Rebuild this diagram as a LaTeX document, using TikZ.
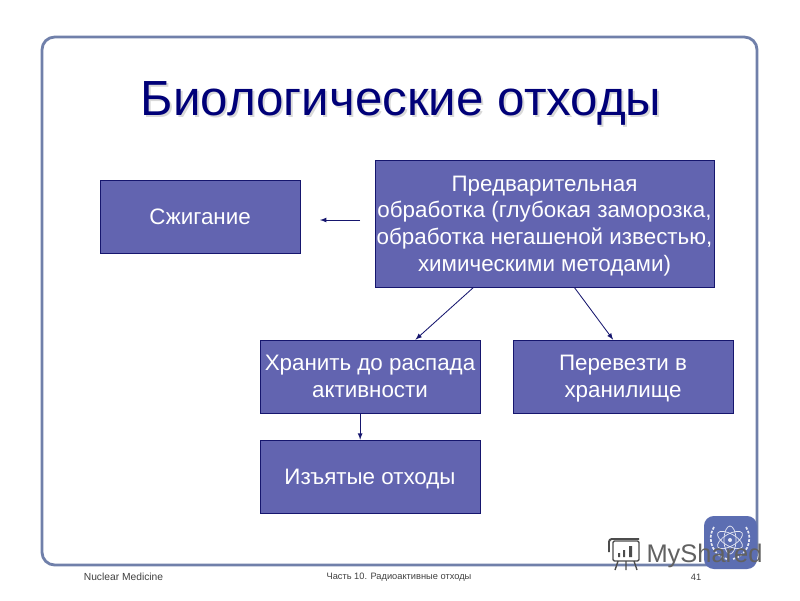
\documentclass[tikz,border=0pt]{standalone}
\usepackage{fontspec}
\setmainfont{Liberation Sans}
\definecolor{framegray}{RGB}{112,128,170}
\definecolor{boxviolet}{RGB}{98,100,176}
\definecolor{boxedge}{RGB}{22,22,110}
\definecolor{titlenavy}{RGB}{0,0,120}
\definecolor{logoblue}{RGB}{92,110,178}
\tikzset{
  stepbox/.style={draw=boxedge, fill=boxviolet, text=white, align=center, inner sep=0pt,
    text depth=0pt, font=\fontsize{15.9}{19}\selectfont},
  flow/.style={->, >={latex[scale=1.2]}, draw=boxedge, line width=0.6pt},
  footer/.style={text=black!75, font=\fontsize{6.6}{8}\selectfont, inner sep=0pt}
}

\begin{document}
\begin{tikzpicture}[x=0.025cm, y=-0.025cm]
  \useasboundingbox (0,0) rectangle (800,600);
  \fill [white] (0,0) rectangle (800,600);
  \draw [framegray, line width=2pt, rounded corners=9pt] (42,37) rectangle (757,565);

  \node [text=black!15, font=\fontsize{35.1}{40}\selectfont] at (403,105) {Биологические отходы};
  \node (title) [text=titlenavy, font=\fontsize{35.1}{40}\selectfont] at (401,103) {Биологические отходы};

  \node (burn) [stepbox, minimum width=5cm, minimum height=1.825cm] at (200,216.5) {Сжигание};
  \node (pretreat) [stepbox, minimum width=8.475cm, minimum height=3.175cm] at (544.5,223.5)
    {Предварительная\\ обработка (глубокая заморозка,\\ обработка негашеной известью,\\ химическими методами)};
  \node (store) [stepbox, minimum width=5.5cm, minimum height=1.825cm] at (370,376.5)
    {Хранить до распада\\ активности};
  \node (ship) [stepbox, minimum width=5.5cm, minimum height=1.825cm] at (623,376.5)
    {Перевезти в\\ хранилище};
  \node (removed) [stepbox, minimum width=5.5cm, minimum height=1.825cm] at (370,476.5)
    {Изъятые отходы};

  \coordinate (burnfrom) at (360,220);
  \coordinate (burnto) at (320,220);
  \draw [flow] (burnfrom) -- (burnto);
  \draw [flow] (pretreat.222) -- (store.39.7);
  \draw [flow] (pretreat.-65.1) -- (ship.105.3);
  \draw [flow] (store.-105.3) -- (removed.105.3);

  % emblem in the corner
  \fill [logoblue, rounded corners=7pt] (704,516) rectangle (757,569);
  \begin{scope}[shift={(730,540)}, white!85!logoblue, line width=0.5pt]
    \draw [rotate=30] (0,0) ellipse (14 and 6);
    \draw [rotate=-30] (0,0) ellipse (14 and 6);
    \draw [rotate=90] (0,0) ellipse (14 and 6);
    \fill (0,0) circle (2);
    \draw [line width=1.2pt, dash pattern=on 2pt off 1pt] (-16,-13) .. controls (-25,2) and (-14,17) .. (-3,19);
    \draw [line width=1.2pt, dash pattern=on 2pt off 1pt] (16,-13) .. controls (25,2) and (14,17) .. (3,19);
  \end{scope}

  % watermark
  \begin{scope}[black!70, line width=1pt]
    \draw [rounded corners=1pt] (613,541) rectangle (639,561);
    \draw [line width=1.4pt, rounded corners=2pt] (609,552) -- (609,539) -- (639,539);
    \draw (618,561) -- (615,570) (626,561) -- (626,570) (634,561) -- (637,570);
    \fill (618,553) rectangle (620,557) (623,550) rectangle (625,557) (629,546) rectangle (632,557);
  \end{scope}
  \node (brand) [text=black!62, inner sep=0pt, font=\fontsize{18.1}{22}\selectfont] at (704.5,556) {MyShared};

  \node (course) [footer, font=\fontsize{7.3}{9}\selectfont] at (123.5,577) {Nuclear Medicine};
  \node (chapter) [footer] at (399,577) {Часть 10. Радиоактивные отходы};
  \node (page) [footer] at (696,577) {41};
\end{tikzpicture}
\end{document}
